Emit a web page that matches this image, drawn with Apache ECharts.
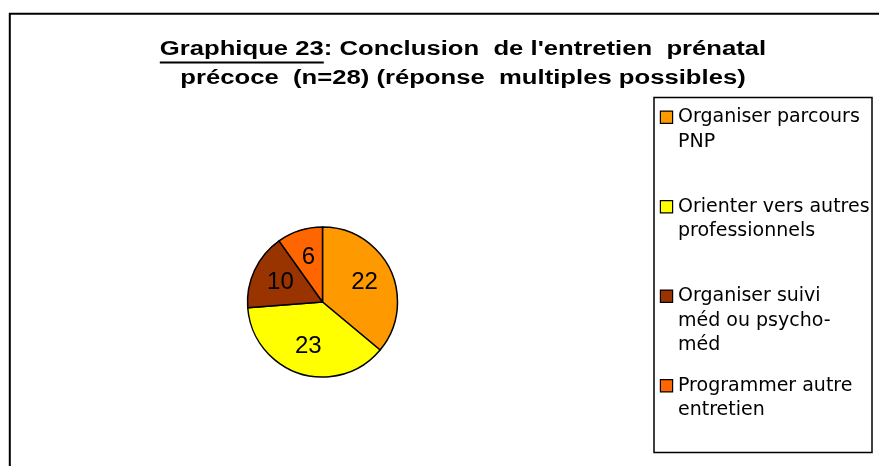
<!DOCTYPE html>
<html>
<head>
<meta charset="UTF-8">
<title>Graphique 23</title>
<script src="https://cdn.jsdelivr.net/npm/echarts@6/dist/echarts.min.js"></script>
<style>
html, body { margin: 0; padding: 0; background: #fff; }
#main { width: 879px; height: 466px; }
</style>
</head>
<body>
<div id="main"></div>
<script>
// données
var categories = ['Organiser parcours PNP', 'Orienter vers autres professionnels', 'Organiser suivi méd ou psycho-méd', 'Programmer autre entretien'];
var values = [22, 23, 10, 6];
var legendLines = [
	['Organiser parcours', 'PNP'],
	['Orienter vers autres', 'professionnels'],
	['Organiser suivi', 'méd ou psycho-', 'méd'],
	['Programmer autre', 'entretien']
];
var titleLines = ["Graphique 23: Conclusion  de l'entretien  prénatal", 'précoce  (n=28) (réponse  multiples possibles)'];
var underlined = 'Graphique 23';

var colors = ['#FF9900', '#FFFF00', '#993300', '#FF6600'];
var FONT = '"Liberation Sans", Arial, sans-serif';
var LEGEND_FONT = '"DejaVu Sans", sans-serif';

// titre : police étirée horizontalement comme l'original
var TITLE_SIZE = 19.5;
var TITLE_SCALE = 1.316;
var titleX = 463;
var ctx = document.createElement('canvas').getContext('2d');
ctx.font = 'bold ' + TITLE_SIZE + 'px ' + FONT;
var lineW = ctx.measureText(titleLines[0]).width * TITLE_SCALE;
var underW = ctx.measureText(underlined).width * TITLE_SCALE;
var underX = titleX - lineW / 2;

var pieData = categories.map(function (c, i) {
	return { name: c, value: values[i] };
});

// carrés de légende en texte riche
var rich = {
	gap: { width: 6 },
	ind: { width: 17 }
};
colors.forEach(function (c, i) {
	rich['sq' + i] = { width: 11, height: 11, backgroundColor: c, borderColor: '#000', borderWidth: 1.2 };
});

var myChart = echarts.init(document.getElementById('main'));
var option = {
	backgroundColor: '#fff',
	animation: false,
	legend: {
		data: categories,
		orient: 'vertical',
		left: 656,
		top: 105,
		padding: 0,
		itemGap: 16,
		icon: 'none',
		itemWidth: 0,
		itemHeight: 0,
		selectedMode: false,
		textStyle: {
			fontFamily: LEGEND_FONT,
			fontSize: 19,
			lineHeight: 24.5,
			color: '#000',
			rich: rich
		},
		formatter: function (name) {
			var i = categories.indexOf(name);
			var lines = legendLines[i];
			var s = '{sq' + i + '|}{gap|}' + lines[0];
			for (var j = 1; j < 3; j++) {
				s += '\n{ind|}' + (lines[j] || ' ');
			}
			return s;
		}
	},
	graphic: [
		{
			type: 'rect', z: 0,
			shape: { x: 9.8, y: 13.7, width: 900, height: 500 },
			style: { fill: 'none', stroke: '#000', lineWidth: 2 }
		},
		{
			type: 'rect', z: 0,
			shape: { x: 654, y: 97.5, width: 218, height: 355 },
			style: { fill: 'none', stroke: '#000', lineWidth: 1.5 }
		},
		{
			type: 'text', z: 10,
			x: titleX, y: 35.5,
			scaleX: TITLE_SCALE,
			style: {
				text: titleLines.join('\n'),
				font: 'bold ' + TITLE_SIZE + 'px ' + FONT,
				lineHeight: 28.5,
				fill: '#000',
				textAlign: 'center',
				textVerticalAlign: 'top'
			}
		},
		{
			type: 'line', z: 10,
			shape: { x1: underX, y1: 62.5, x2: underX + underW, y2: 62.5 },
			style: { stroke: '#000', lineWidth: 1.8 }
		}
	],
	series: [
		{
			name: 'Conclusion',
			type: 'pie',
			center: [322.5, 302],
			radius: [0, 75],
			startAngle: 90,
			clockwise: true,
			silent: true,
			color: colors,
			itemStyle: { borderColor: '#000', borderWidth: 1.5 },
			label: { show: false },
			labelLine: { show: false },
			emphasis: { disabled: true },
			data: pieData
		},
		{
			// étiquettes uniquement
			name: 'Etiquettes',
			type: 'pie',
			center: [322.5, 302],
			radius: [12, 75],
			startAngle: 90,
			clockwise: true,
			silent: true,
			z: 5,
			itemStyle: { color: 'rgba(0,0,0,0)', borderWidth: 0 },
			label: {
				show: true,
				position: 'inside',
				formatter: '{c}',
				fontFamily: FONT,
				fontSize: 24,
				color: '#000'
			},
			labelLine: { show: false },
			emphasis: { disabled: true },
			data: pieData
		}
	]
};
myChart.setOption(option);
</script>
</body>
</html>
